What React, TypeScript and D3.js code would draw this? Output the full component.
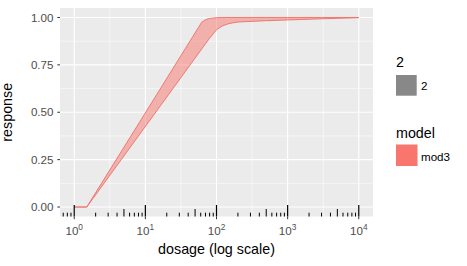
import React from "react";
import * as d3 from "d3";

const dose = [1, 1.5, 62, 70, 80, 100, 120, 150, 200, 500, 1000, 3000, 10000];
const upper = [0, 0, 0.975, 0.988, 0.995, 0.999, 1, 1, 1, 1, 1, 1, 1];
const lower = [0, 0, 0.834, 0.861, 0.891, 0.935, 0.955, 0.968, 0.976, 0.983, 0.987, 0.993, 0.999];
const yTicks = [0, 0.25, 0.5, 0.75, 1];
const yTickLabels = ["0.00", "0.25", "0.50", "0.75", "1.00"];
const xExponents = [0, 1, 2, 3, 4];
const fillLegendTitle = "2";
const fillLegendLabel = "2";
const modelLegendTitle = "model";
const modelLegendLabel = "mod3";

const W = 467;
const H = 266;
const L = 60, R = 373, T = 8, B = 216.5;

export default function App() {
  const x = d3.scaleLog().domain([Math.pow(10, -0.2), Math.pow(10, 4.2)]).range([L, R]);
  const y = d3.scaleLinear().domain([-0.05, 1.05]).range([B, T]);
  const pts = dose.map((d, i) => ({ d, lo: lower[i], hi: upper[i] }));
  const area = d3.area<any>().x((p) => x(p.d)).y0((p) => y(p.lo)).y1((p) => y(p.hi));
  const lineLo = d3.line<any>().x((p) => x(p.d)).y((p) => y(p.lo));
  const lineHi = d3.line<any>().x((p) => x(p.d)).y((p) => y(p.hi));

  const yMinor = [0.125, 0.375, 0.625, 0.875];
  const xMinor = [0.5, 1.5, 2.5, 3.5].map((e) => Math.pow(10, e));

  const logTicks: { v: number; len: number }[] = [];
  for (let k = -1; k <= 4; k++) {
    for (let m = 1; m <= 9; m++) {
      const v = m * Math.pow(10, k);
      const [d0, d1] = x.domain();
      if (v < d0 || v > d1) continue;
      const len = m === 1 ? 11.5 : m === 5 ? 7.5 : 3.8;
      logTicks.push({ v, len });
    }
  }

  const font = "Liberation Sans, Arial, sans-serif";

  return (
    <svg width={W} height={H} style={{ position: "absolute", left: 0, top: 0 }} fontFamily={font}>
      <rect x={0} y={0} width={W} height={H} fill="#fff" />
      <rect x={L} y={T} width={R - L} height={B - T} fill="#EBEBEB" />
      {yMinor.map((v) => (
        <line key={"ym" + v} x1={L} x2={R} y1={y(v)} y2={y(v)} stroke="#fff" strokeWidth={0.55} />
      ))}
      {xMinor.map((v) => (
        <line key={"xm" + v} x1={x(v)} x2={x(v)} y1={T} y2={B} stroke="#fff" strokeWidth={0.55} />
      ))}
      {yTicks.map((v) => (
        <line key={"yg" + v} x1={L} x2={R} y1={y(v)} y2={y(v)} stroke="#fff" strokeWidth={1.1} />
      ))}
      {xExponents.map((e) => (
        <line key={"xg" + e} x1={x(Math.pow(10, e))} x2={x(Math.pow(10, e))} y1={T} y2={B} stroke="#fff" strokeWidth={1.1} />
      ))}
      <path d={area(pts) || ""} fill="#F8766D" fillOpacity={0.5} />
      <path d={lineHi(pts) || ""} fill="none" stroke="#EE6F66" strokeWidth={0.9} />
      <path d={lineLo(pts) || ""} fill="none" stroke="#EE6F66" strokeWidth={0.9} />
      {logTicks.map((t, i) => (
        <line key={"lt" + i} x1={x(t.v)} x2={x(t.v)} y1={B} y2={B - t.len} stroke="#000" strokeWidth={t.len > 10 ? 1.2 : 1} />
      ))}
      {/* y axis */}
      {yTicks.map((v, i) => (
        <g key={"yt" + v}>
          <line x1={L - 2.7} x2={L} y1={y(v)} y2={y(v)} stroke="#333" strokeWidth={1} />
          <text x={L - 6.5} y={y(v)} dy="0.35em" textAnchor="end" fontSize={11.6} fill="#4D4D4D">
            {yTickLabels[i]}
          </text>
        </g>
      ))}
      {/* x axis */}
      {xExponents.map((e) => (
        <g key={"xt" + e}>
          <line x1={x(Math.pow(10, e))} x2={x(Math.pow(10, e))} y1={B} y2={B + 2.7} stroke="#333" strokeWidth={1} />
          <text x={x(Math.pow(10, e))} y={235} textAnchor="middle" fontSize={11.6} fill="#4D4D4D">
            10
            <tspan fontSize={8.3} dy={-5}>{e}</tspan>
          </text>
        </g>
      ))}
      <text x={(L + R) / 2} y={254} textAnchor="middle" fontSize={14.3} fill="#000">
        dosage (log scale)
      </text>
      <text transform={`translate(${11.5},${(T + B) / 2}) rotate(-90)`} textAnchor="middle" fontSize={14.3} fill="#000">
        response
      </text>
      {/* legends */}
      <text x={396} y={67.3} fontSize={14.3} fill="#000">{fillLegendTitle}</text>
      <rect x={396} y={75} width={20.7} height={20.7} fill="#888888" />
      <text x={421} y={89.8} fontSize={11.6} fill="#000">{fillLegendLabel}</text>
      <text x={396} y={138.3} fontSize={14.3} fill="#000">{modelLegendTitle}</text>
      <rect x={396} y={144.5} width={21.5} height={21.5} fill="#F8766D" />
      <text x={421} y={160.5} fontSize={11.6} fill="#000">{modelLegendLabel}</text>
    </svg>
  );
}
